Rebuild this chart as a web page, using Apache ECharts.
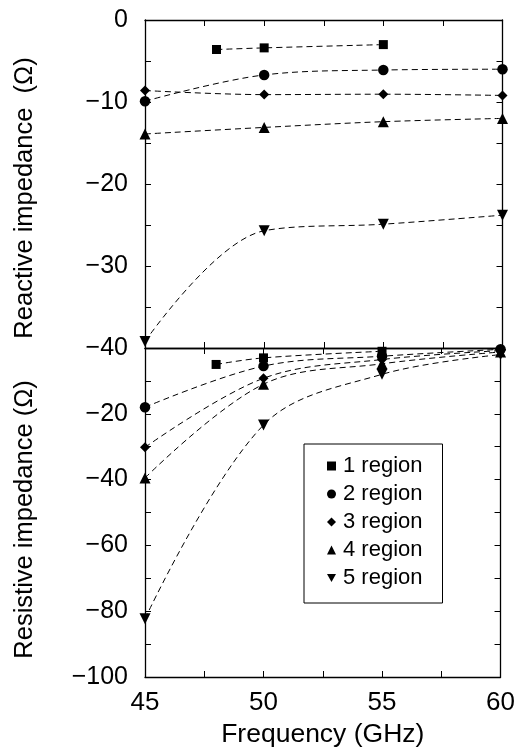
<!DOCTYPE html>
<html>
<head>
<meta charset="utf-8">
<script src="https://cdn.jsdelivr.net/npm/echarts@6/dist/echarts.min.js"></script>
<style>
html,body{margin:0;padding:0;background:#fff;}
#c{width:518px;height:753px;}
</style>
</head>
<body>
<div id="c"></div>
<script>
// ---- data ----
var freq = [45, 50, 55, 60];
var freqRegion1 = [48, 50, 55];
var seriesNames = ['1 region', '2 region', '3 region', '4 region', '5 region'];

// Reactive impedance (Ω)
var reactive1 = [-3.6, -3.4, -3.0];
var reactive2 = [-9.9, -6.7, -6.1, -6.0];
var reactive3 = [-8.6, -9.1, -9.05, -9.2];
var reactive4 = [-13.9, -13.1, -12.4, -12.0];
var reactive5 = [-39.2, -25.7, -24.9, -23.8];

// Resistive impedance (Ω)
var resistive1 = [-5.0, -3.0, -1.0];
var resistive2 = [-18.0, -5.5, -2.5, -0.4];
var resistive3 = [-30.2, -9.2, -3.5, -0.8];
var resistive4 = [-39.5, -11.0, -4.8, -1.2];
var resistive5 = [-82.3, -23.4, -8.0, -2.0];

var xTicks = [45, 50, 55, 60];
var reactiveTicks = [0, -10, -20, -30, -40];
var resistiveTicks = [-20, -40, -60, -80, -100];

// ---- chart ----
var FONT = 'Liberation Sans';
var symbols = ['rect', 'circle', 'diamond', 'triangle', 'triangle'];
var rotates = [0, 0, 0, 0, 180];
var sizes = [9, 10.5, 10, 11, 11];
var legendIcons = ['rect', 'circle', 'diamond', 'triangle', 'path://M0,0L10,0L5,9Z'];

function pairs(xs, ys) { return xs.map(function (x, i) { return [x, ys[i]]; }); }
function minus(v) { return String(v).replace('-', '\u2212'); }

var axisLine = { show: true, onZero: false, lineStyle: { color: '#000', width: 1.3 } };
var tick = { show: true, inside: true, length: 6, lineStyle: { color: '#000', width: 1 } };
var minor = { show: true, splitNumber: 2, length: 6, lineStyle: { color: '#000', width: 1 } };

function xAx(grid, pos, labels) {
  return {
    type: 'value', gridIndex: grid, position: pos, min: 45, max: 60, interval: 5,
    axisLine: axisLine, axisTick: tick, minorTick: minor, splitLine: { show: false },
    axisLabel: {
      show: labels, margin: 13, color: '#000', fontFamily: FONT, fontSize: 26,
      formatter: function (v) { return xTicks.indexOf(v) >= 0 ? String(v) : ''; }
    },
    name: labels ? 'Frequency (GHz)' : '', nameLocation: 'middle', nameGap: 44,
    nameTextStyle: { color: '#000', fontFamily: FONT, fontSize: 26.5 }
  };
}
function yAx(grid, pos, min, interval, ticks, name, shift) {
  var left = pos === 'left';
  return {
    type: 'value', gridIndex: grid, position: pos, min: min, max: 0, interval: interval,
    axisLine: axisLine, axisTick: tick, minorTick: minor, splitLine: { show: false },
    axisLabel: {
      show: left, margin: 17, color: '#000', fontFamily: FONT, fontSize: 25,
      formatter: function (v) { return ticks.indexOf(v) >= 0 ? minus(v) : ''; }
    },
    name: left ? name : '', nameLocation: 'middle', nameGap: 107,
    nameTextStyle: { color: '#000', fontFamily: FONT, fontSize: 25.5, padding: [0, shift || 0, 0, 0] }
  };
}

var reactiveData = [pairs(freqRegion1, reactive1), pairs(freq, reactive2), pairs(freq, reactive3), pairs(freq, reactive4), pairs(freq, reactive5)];
var resistiveData = [pairs(freqRegion1, resistive1), pairs(freq, resistive2), pairs(freq, resistive3), pairs(freq, resistive4), pairs(freq, resistive5)];

var series = [];
[[reactiveData, 0, 0], [resistiveData, 2, 2]].forEach(function (g) {
  g[0].forEach(function (d, i) {
    series.push({
      type: 'line', name: seriesNames[i], data: d, xAxisIndex: g[1], yAxisIndex: g[2],
      smooth: 0.35, symbol: symbols[i], symbolRotate: rotates[i], symbolSize: sizes[i],
      showAllSymbol: true,
      lineStyle: { color: '#000', width: 1, type: [6, 4] },
      itemStyle: { color: '#000' },
      emphasis: { disabled: true }, animation: false
    });
  });
});

var chart = echarts.init(document.getElementById('c'));
chart.setOption({
  animation: false,
  backgroundColor: '#fff',
  grid: [
    { left: 145, right: 15.5, top: 20, height: 328 },
    { left: 145, right: 15.5, top: 348, height: 329 }
  ],
  xAxis: [xAx(0, 'bottom', false), xAx(0, 'top', false), xAx(1, 'bottom', true), xAx(1, 'top', false)],
  yAxis: [
    yAx(0, 'left', -40, 10, reactiveTicks, 'Reactive impedance  (\u03A9)', 28),
    yAx(0, 'right', -40, 10, reactiveTicks, ''),
    yAx(1, 'left', -100, 20, resistiveTicks, 'Resistive impedance (\u03A9)', 14),
    yAx(1, 'right', -100, 20, resistiveTicks, '')
  ],
  legend: {
    orient: 'vertical', left: 304, top: 444,
    padding: [11, 20, 14, 23],
    itemWidth: 9, itemHeight: 9, itemGap: 6,
    backgroundColor: '#fff', borderColor: '#000', borderWidth: 1, borderRadius: 0,
    textStyle: { color: '#000', fontFamily: FONT, fontSize: 22, lineHeight: 22, padding: [0, 0, 0, 2] },
    data: seriesNames.map(function (n, i) { return { name: n, icon: legendIcons[i], itemStyle: { color: '#000' } }; }),
    selectedMode: false
  },
  series: series
});
</script>
</body>
</html>
